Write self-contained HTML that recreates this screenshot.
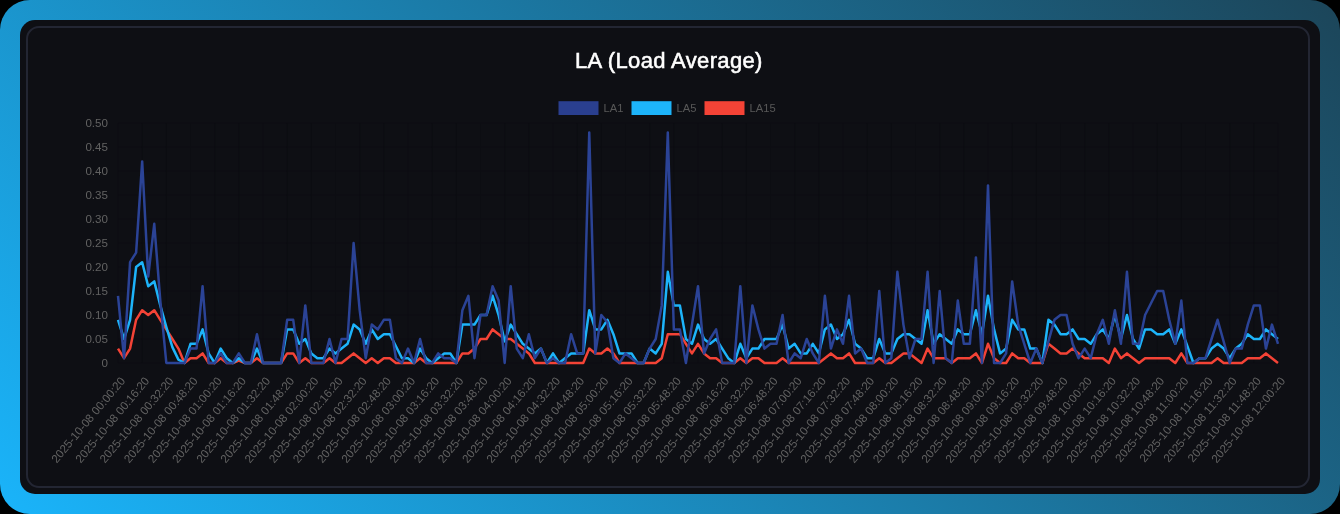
<!DOCTYPE html>
<html><head><meta charset="utf-8"><title>LA (Load Average)</title>
<style>
html,body{margin:0;padding:0;background:#000;width:1340px;height:514px;overflow:hidden}
body{font-family:"Liberation Sans",sans-serif}
.frame{position:absolute;left:0;top:0;width:1340px;height:514px;border-radius:30px;
background:linear-gradient(45deg,#1ab4fa 0%,#1c4559 100%)}
.panel{position:absolute;left:20px;top:20px;width:1300px;height:474px;border-radius:15px;background:#0e0f14}
.inner{position:absolute;left:6px;top:6px;width:1284.4px;height:462px;border-radius:13px;border:2px solid #232633;box-sizing:border-box}
svg{position:absolute;left:0;top:0;filter:blur(0.35px)}
.title{font:22px "Liberation Sans",sans-serif;fill:#fff;stroke:#fff;stroke-width:0.55px;letter-spacing:0.35px}
.leg text{font:11.2px "Liberation Sans",sans-serif;fill:#585858}
.ax text{font:11.6px "Liberation Sans",sans-serif;fill:#626262}
.grid line{stroke:#0c0d12;stroke-width:1}
polyline{fill:none;stroke-width:2.5;stroke-linejoin:round;stroke-linecap:butt}
</style></head><body>
<div class="frame"><div class="panel"><div class="inner"></div></div></div>
<svg width="1340" height="514" viewBox="0 0 1340 514">
<text class="title" x="668.9" y="68.2" text-anchor="middle">LA (Load Average)</text>
<g class="leg">
<rect x="558.5" y="101.2" width="40" height="13.8" fill="#2a3f8f"/><text x="603.5" y="112">LA1</text>
<rect x="631.5" y="101.2" width="40" height="13.8" fill="#1db4fa"/><text x="676.5" y="112">LA5</text>
<rect x="704.5" y="101.2" width="40" height="13.8" fill="#f44336"/><text x="749.5" y="112">LA15</text>
</g>
<g class="grid"><line x1="118" x2="1278" y1="363.0" y2="363.0"/><line x1="118" x2="1278" y1="339.0" y2="339.0"/><line x1="118" x2="1278" y1="315.0" y2="315.0"/><line x1="118" x2="1278" y1="291.0" y2="291.0"/><line x1="118" x2="1278" y1="267.0" y2="267.0"/><line x1="118" x2="1278" y1="243.0" y2="243.0"/><line x1="118" x2="1278" y1="219.0" y2="219.0"/><line x1="118" x2="1278" y1="195.0" y2="195.0"/><line x1="118" x2="1278" y1="171.0" y2="171.0"/><line x1="118" x2="1278" y1="147.0" y2="147.0"/><line x1="118" x2="1278" y1="123.0" y2="123.0"/><line x1="118.00" x2="118.00" y1="123" y2="363"/><line x1="142.17" x2="142.17" y1="123" y2="363"/><line x1="166.33" x2="166.33" y1="123" y2="363"/><line x1="190.50" x2="190.50" y1="123" y2="363"/><line x1="214.67" x2="214.67" y1="123" y2="363"/><line x1="238.83" x2="238.83" y1="123" y2="363"/><line x1="263.00" x2="263.00" y1="123" y2="363"/><line x1="287.17" x2="287.17" y1="123" y2="363"/><line x1="311.33" x2="311.33" y1="123" y2="363"/><line x1="335.50" x2="335.50" y1="123" y2="363"/><line x1="359.67" x2="359.67" y1="123" y2="363"/><line x1="383.83" x2="383.83" y1="123" y2="363"/><line x1="408.00" x2="408.00" y1="123" y2="363"/><line x1="432.17" x2="432.17" y1="123" y2="363"/><line x1="456.33" x2="456.33" y1="123" y2="363"/><line x1="480.50" x2="480.50" y1="123" y2="363"/><line x1="504.67" x2="504.67" y1="123" y2="363"/><line x1="528.83" x2="528.83" y1="123" y2="363"/><line x1="553.00" x2="553.00" y1="123" y2="363"/><line x1="577.17" x2="577.17" y1="123" y2="363"/><line x1="601.33" x2="601.33" y1="123" y2="363"/><line x1="625.50" x2="625.50" y1="123" y2="363"/><line x1="649.67" x2="649.67" y1="123" y2="363"/><line x1="673.83" x2="673.83" y1="123" y2="363"/><line x1="698.00" x2="698.00" y1="123" y2="363"/><line x1="722.17" x2="722.17" y1="123" y2="363"/><line x1="746.33" x2="746.33" y1="123" y2="363"/><line x1="770.50" x2="770.50" y1="123" y2="363"/><line x1="794.67" x2="794.67" y1="123" y2="363"/><line x1="818.83" x2="818.83" y1="123" y2="363"/><line x1="843.00" x2="843.00" y1="123" y2="363"/><line x1="867.17" x2="867.17" y1="123" y2="363"/><line x1="891.33" x2="891.33" y1="123" y2="363"/><line x1="915.50" x2="915.50" y1="123" y2="363"/><line x1="939.67" x2="939.67" y1="123" y2="363"/><line x1="963.83" x2="963.83" y1="123" y2="363"/><line x1="988.00" x2="988.00" y1="123" y2="363"/><line x1="1012.17" x2="1012.17" y1="123" y2="363"/><line x1="1036.33" x2="1036.33" y1="123" y2="363"/><line x1="1060.50" x2="1060.50" y1="123" y2="363"/><line x1="1084.67" x2="1084.67" y1="123" y2="363"/><line x1="1108.83" x2="1108.83" y1="123" y2="363"/><line x1="1133.00" x2="1133.00" y1="123" y2="363"/><line x1="1157.17" x2="1157.17" y1="123" y2="363"/><line x1="1181.33" x2="1181.33" y1="123" y2="363"/><line x1="1205.50" x2="1205.50" y1="123" y2="363"/><line x1="1229.67" x2="1229.67" y1="123" y2="363"/><line x1="1253.83" x2="1253.83" y1="123" y2="363"/><line x1="1278.00" x2="1278.00" y1="123" y2="363"/></g>
<g class="ax"><text x="108" y="366.8" text-anchor="end">0</text><text x="108" y="342.8" text-anchor="end">0.05</text><text x="108" y="318.8" text-anchor="end">0.10</text><text x="108" y="294.8" text-anchor="end">0.15</text><text x="108" y="270.8" text-anchor="end">0.20</text><text x="108" y="246.8" text-anchor="end">0.25</text><text x="108" y="222.8" text-anchor="end">0.30</text><text x="108" y="198.8" text-anchor="end">0.35</text><text x="108" y="174.8" text-anchor="end">0.40</text><text x="108" y="150.8" text-anchor="end">0.45</text><text x="108" y="126.8" text-anchor="end">0.50</text><text transform="translate(123.00,378.8) rotate(-50)" text-anchor="end" dy="0.32em">2025-10-08 00:00:20</text><text transform="translate(147.17,378.8) rotate(-50)" text-anchor="end" dy="0.32em">2025-10-08 00:16:20</text><text transform="translate(171.33,378.8) rotate(-50)" text-anchor="end" dy="0.32em">2025-10-08 00:32:20</text><text transform="translate(195.50,378.8) rotate(-50)" text-anchor="end" dy="0.32em">2025-10-08 00:48:20</text><text transform="translate(219.67,378.8) rotate(-50)" text-anchor="end" dy="0.32em">2025-10-08 01:00:20</text><text transform="translate(243.83,378.8) rotate(-50)" text-anchor="end" dy="0.32em">2025-10-08 01:16:20</text><text transform="translate(268.00,378.8) rotate(-50)" text-anchor="end" dy="0.32em">2025-10-08 01:32:20</text><text transform="translate(292.17,378.8) rotate(-50)" text-anchor="end" dy="0.32em">2025-10-08 01:48:20</text><text transform="translate(316.33,378.8) rotate(-50)" text-anchor="end" dy="0.32em">2025-10-08 02:00:20</text><text transform="translate(340.50,378.8) rotate(-50)" text-anchor="end" dy="0.32em">2025-10-08 02:16:20</text><text transform="translate(364.67,378.8) rotate(-50)" text-anchor="end" dy="0.32em">2025-10-08 02:32:20</text><text transform="translate(388.83,378.8) rotate(-50)" text-anchor="end" dy="0.32em">2025-10-08 02:48:20</text><text transform="translate(413.00,378.8) rotate(-50)" text-anchor="end" dy="0.32em">2025-10-08 03:00:20</text><text transform="translate(437.17,378.8) rotate(-50)" text-anchor="end" dy="0.32em">2025-10-08 03:16:20</text><text transform="translate(461.33,378.8) rotate(-50)" text-anchor="end" dy="0.32em">2025-10-08 03:32:20</text><text transform="translate(485.50,378.8) rotate(-50)" text-anchor="end" dy="0.32em">2025-10-08 03:48:20</text><text transform="translate(509.67,378.8) rotate(-50)" text-anchor="end" dy="0.32em">2025-10-08 04:00:20</text><text transform="translate(533.83,378.8) rotate(-50)" text-anchor="end" dy="0.32em">2025-10-08 04:16:20</text><text transform="translate(558.00,378.8) rotate(-50)" text-anchor="end" dy="0.32em">2025-10-08 04:32:20</text><text transform="translate(582.17,378.8) rotate(-50)" text-anchor="end" dy="0.32em">2025-10-08 04:48:20</text><text transform="translate(606.33,378.8) rotate(-50)" text-anchor="end" dy="0.32em">2025-10-08 05:00:20</text><text transform="translate(630.50,378.8) rotate(-50)" text-anchor="end" dy="0.32em">2025-10-08 05:16:20</text><text transform="translate(654.67,378.8) rotate(-50)" text-anchor="end" dy="0.32em">2025-10-08 05:32:20</text><text transform="translate(678.83,378.8) rotate(-50)" text-anchor="end" dy="0.32em">2025-10-08 05:48:20</text><text transform="translate(703.00,378.8) rotate(-50)" text-anchor="end" dy="0.32em">2025-10-08 06:00:20</text><text transform="translate(727.17,378.8) rotate(-50)" text-anchor="end" dy="0.32em">2025-10-08 06:16:20</text><text transform="translate(751.33,378.8) rotate(-50)" text-anchor="end" dy="0.32em">2025-10-08 06:32:20</text><text transform="translate(775.50,378.8) rotate(-50)" text-anchor="end" dy="0.32em">2025-10-08 06:48:20</text><text transform="translate(799.67,378.8) rotate(-50)" text-anchor="end" dy="0.32em">2025-10-08 07:00:20</text><text transform="translate(823.83,378.8) rotate(-50)" text-anchor="end" dy="0.32em">2025-10-08 07:16:20</text><text transform="translate(848.00,378.8) rotate(-50)" text-anchor="end" dy="0.32em">2025-10-08 07:32:20</text><text transform="translate(872.17,378.8) rotate(-50)" text-anchor="end" dy="0.32em">2025-10-08 07:48:20</text><text transform="translate(896.33,378.8) rotate(-50)" text-anchor="end" dy="0.32em">2025-10-08 08:00:20</text><text transform="translate(920.50,378.8) rotate(-50)" text-anchor="end" dy="0.32em">2025-10-08 08:16:20</text><text transform="translate(944.67,378.8) rotate(-50)" text-anchor="end" dy="0.32em">2025-10-08 08:32:20</text><text transform="translate(968.83,378.8) rotate(-50)" text-anchor="end" dy="0.32em">2025-10-08 08:48:20</text><text transform="translate(993.00,378.8) rotate(-50)" text-anchor="end" dy="0.32em">2025-10-08 09:00:20</text><text transform="translate(1017.17,378.8) rotate(-50)" text-anchor="end" dy="0.32em">2025-10-08 09:16:20</text><text transform="translate(1041.33,378.8) rotate(-50)" text-anchor="end" dy="0.32em">2025-10-08 09:32:20</text><text transform="translate(1065.50,378.8) rotate(-50)" text-anchor="end" dy="0.32em">2025-10-08 09:48:20</text><text transform="translate(1089.67,378.8) rotate(-50)" text-anchor="end" dy="0.32em">2025-10-08 10:00:20</text><text transform="translate(1113.83,378.8) rotate(-50)" text-anchor="end" dy="0.32em">2025-10-08 10:16:20</text><text transform="translate(1138.00,378.8) rotate(-50)" text-anchor="end" dy="0.32em">2025-10-08 10:32:20</text><text transform="translate(1162.17,378.8) rotate(-50)" text-anchor="end" dy="0.32em">2025-10-08 10:48:20</text><text transform="translate(1186.33,378.8) rotate(-50)" text-anchor="end" dy="0.32em">2025-10-08 11:00:20</text><text transform="translate(1210.50,378.8) rotate(-50)" text-anchor="end" dy="0.32em">2025-10-08 11:16:20</text><text transform="translate(1234.67,378.8) rotate(-50)" text-anchor="end" dy="0.32em">2025-10-08 11:32:20</text><text transform="translate(1258.83,378.8) rotate(-50)" text-anchor="end" dy="0.32em">2025-10-08 11:48:20</text><text transform="translate(1283.00,378.8) rotate(-50)" text-anchor="end" dy="0.32em">2025-10-08 12:00:20</text></g>
<polyline stroke="#f44336" points="118.00,348.60 124.04,358.20 130.08,348.60 136.12,319.80 142.17,310.20 148.21,315.00 154.25,310.20 160.29,319.80 166.33,329.40 172.38,339.00 178.42,348.60 184.46,363.00 190.50,358.20 196.54,358.20 202.58,353.40 208.62,363.00 214.67,363.00 220.71,358.20 226.75,363.00 232.79,363.00 238.83,360.60 244.88,363.00 250.92,363.00 256.96,358.20 263.00,363.00 269.04,363.00 275.08,363.00 281.12,363.00 287.17,353.40 293.21,353.40 299.25,363.00 305.29,358.20 311.33,363.00 317.38,363.00 323.42,363.00 329.46,358.20 335.50,363.00 341.54,363.00 347.58,358.20 353.62,353.40 359.67,358.20 365.71,363.00 371.75,358.20 377.79,363.00 383.83,358.20 389.88,358.20 395.92,363.00 401.96,363.00 408.00,363.00 414.04,363.00 420.08,358.20 426.12,363.00 432.17,363.00 438.21,363.00 444.25,363.00 450.29,363.00 456.33,363.00 462.38,353.40 468.42,353.40 474.46,348.60 480.50,339.00 486.54,339.00 492.58,329.40 498.62,334.20 504.67,339.00 510.71,339.00 516.75,343.80 522.79,348.60 528.83,353.40 534.88,363.00 540.92,363.00 546.96,363.00 553.00,363.00 559.04,363.00 565.08,363.00 571.12,363.00 577.17,363.00 583.21,363.00 589.25,348.60 595.29,353.40 601.33,353.40 607.38,348.60 613.42,353.40 619.46,363.00 625.50,363.00 631.54,363.00 637.58,363.00 643.62,363.00 649.67,363.00 655.71,363.00 661.75,358.20 667.79,334.20 673.83,334.20 679.88,334.20 685.92,343.80 691.96,353.40 698.00,343.80 704.04,353.40 710.08,358.20 716.12,358.20 722.17,363.00 728.21,363.00 734.25,363.00 740.29,358.20 746.33,363.00 752.38,358.20 758.42,358.20 764.46,363.00 770.50,363.00 776.54,363.00 782.58,358.20 788.62,363.00 794.67,363.00 800.71,363.00 806.75,363.00 812.79,363.00 818.83,363.00 824.88,358.20 830.92,353.40 836.96,358.20 843.00,358.20 849.04,353.40 855.08,363.00 861.12,363.00 867.17,363.00 873.21,363.00 879.25,358.20 885.29,363.00 891.33,363.00 897.38,358.20 903.42,353.40 909.46,353.40 915.50,358.20 921.54,363.00 927.58,348.60 933.62,358.20 939.67,358.20 945.71,358.20 951.75,363.00 957.79,358.20 963.83,358.20 969.88,358.20 975.92,353.40 981.96,363.00 988.00,343.80 994.04,358.20 1000.08,363.00 1006.12,363.00 1012.17,353.40 1018.21,358.20 1024.25,358.20 1030.29,363.00 1036.33,363.00 1042.38,363.00 1048.42,343.80 1054.46,348.60 1060.50,353.40 1066.54,353.40 1072.58,348.60 1078.62,353.40 1084.67,358.20 1090.71,358.20 1096.75,358.20 1102.79,358.20 1108.83,363.00 1114.88,348.60 1120.92,358.20 1126.96,353.40 1133.00,358.20 1139.04,363.00 1145.08,358.20 1151.12,358.20 1157.17,358.20 1163.21,358.20 1169.25,358.20 1175.29,363.00 1181.33,353.40 1187.38,363.00 1193.42,363.00 1199.46,363.00 1205.50,363.00 1211.54,363.00 1217.58,358.20 1223.62,363.00 1229.67,363.00 1235.71,363.00 1241.75,363.00 1247.79,358.20 1253.83,358.20 1259.88,358.20 1265.92,353.40 1271.96,358.20 1278.00,363.00"/>
<polyline stroke="#1db4fa" points="118.00,319.80 124.04,339.00 130.08,319.80 136.12,267.00 142.17,262.20 148.21,286.20 154.25,281.40 160.29,305.40 166.33,327.00 172.38,347.16 178.42,359.64 184.46,363.00 190.50,343.80 196.54,343.80 202.58,329.40 208.62,353.40 214.67,363.00 220.71,348.60 226.75,358.20 232.79,363.00 238.83,358.20 244.88,363.00 250.92,363.00 256.96,348.60 263.00,363.00 269.04,363.00 275.08,363.00 281.12,363.00 287.17,329.40 293.21,329.40 299.25,343.80 305.29,339.00 311.33,353.40 317.38,358.20 323.42,358.20 329.46,348.60 335.50,353.40 341.54,348.60 347.58,343.80 353.62,324.60 359.67,329.40 365.71,343.80 371.75,329.40 377.79,339.00 383.83,334.20 389.88,334.20 395.92,346.20 401.96,358.20 408.00,358.20 414.04,363.00 420.08,348.60 426.12,358.20 432.17,363.00 438.21,358.20 444.25,353.40 450.29,353.40 456.33,363.00 462.38,324.60 468.42,324.60 474.46,324.60 480.50,315.00 486.54,315.00 492.58,295.80 498.62,315.00 504.67,341.40 510.71,324.60 516.75,334.20 522.79,343.80 528.83,348.60 534.88,353.40 540.92,348.60 546.96,363.00 553.00,353.40 559.04,363.00 565.08,358.20 571.12,353.40 577.17,353.40 583.21,353.40 589.25,310.20 595.29,329.40 601.33,329.40 607.38,319.80 613.42,334.20 619.46,353.40 625.50,353.40 631.54,353.40 637.58,363.00 643.62,363.00 649.67,348.60 655.71,353.40 661.75,343.80 667.79,271.80 673.83,305.40 679.88,305.40 685.92,339.00 691.96,343.80 698.00,324.60 704.04,339.00 710.08,343.80 716.12,339.00 722.17,348.60 728.21,358.20 734.25,363.00 740.29,343.80 746.33,358.20 752.38,348.60 758.42,348.60 764.46,339.00 770.50,339.00 776.54,339.00 782.58,324.60 788.62,348.60 794.67,343.80 800.71,353.40 806.75,353.40 812.79,343.80 818.83,353.40 824.88,329.40 830.92,324.60 836.96,339.00 843.00,334.20 849.04,319.80 855.08,343.80 861.12,348.60 867.17,358.20 873.21,358.20 879.25,339.00 885.29,353.40 891.33,353.40 897.38,339.00 903.42,334.20 909.46,334.20 915.50,339.00 921.54,343.80 927.58,310.20 933.62,343.80 939.67,334.20 945.71,339.00 951.75,343.80 957.79,329.40 963.83,334.20 969.88,334.20 975.92,310.20 981.96,334.20 988.00,295.80 994.04,329.40 1000.08,353.40 1006.12,348.60 1012.17,319.80 1018.21,329.40 1024.25,329.40 1030.29,348.60 1036.33,348.60 1042.38,363.00 1048.42,319.80 1054.46,324.60 1060.50,334.20 1066.54,334.20 1072.58,329.40 1078.62,339.00 1084.67,339.00 1090.71,343.80 1096.75,334.20 1102.79,329.40 1108.83,339.00 1114.88,315.00 1120.92,339.00 1126.96,315.00 1133.00,339.00 1139.04,348.60 1145.08,329.40 1151.12,329.40 1157.17,334.20 1163.21,334.20 1169.25,329.40 1175.29,343.80 1181.33,329.40 1187.38,346.20 1193.42,363.00 1199.46,358.20 1205.50,358.20 1211.54,348.60 1217.58,343.80 1223.62,348.60 1229.67,358.20 1235.71,348.60 1241.75,343.80 1247.79,334.20 1253.83,339.00 1259.88,339.00 1265.92,329.40 1271.96,334.20 1278.00,339.00"/>
<polyline stroke="#2b4396" points="118.00,295.80 124.04,358.20 130.08,262.20 136.12,252.60 142.17,161.40 148.21,276.60 154.25,223.80 160.29,300.60 166.33,363.00 172.38,363.00 178.42,363.00 184.46,363.00 190.50,348.60 196.54,348.60 202.58,286.20 208.62,363.00 214.67,363.00 220.71,353.40 226.75,363.00 232.79,363.00 238.83,353.40 244.88,363.00 250.92,363.00 256.96,334.20 263.00,363.00 269.04,363.00 275.08,363.00 281.12,363.00 287.17,319.80 293.21,319.80 299.25,363.00 305.29,305.40 311.33,363.00 317.38,363.00 323.42,363.00 329.46,339.00 335.50,363.00 341.54,339.00 347.58,339.00 353.62,243.00 359.67,310.20 365.71,358.20 371.75,324.60 377.79,329.40 383.83,319.80 389.88,319.80 395.92,358.20 401.96,363.00 408.00,348.60 414.04,363.00 420.08,339.00 426.12,363.00 432.17,363.00 438.21,353.40 444.25,358.20 450.29,358.20 456.33,363.00 462.38,310.20 468.42,295.80 474.46,358.20 480.50,315.00 486.54,315.00 492.58,286.20 498.62,300.60 504.67,363.00 510.71,286.20 516.75,348.60 522.79,358.20 528.83,334.20 534.88,358.20 540.92,348.60 546.96,363.00 553.00,358.20 559.04,363.00 565.08,363.00 571.12,334.20 577.17,353.40 583.21,353.40 589.25,132.60 595.29,353.40 601.33,315.00 607.38,322.20 613.42,358.20 619.46,363.00 625.50,353.40 631.54,358.20 637.58,363.00 643.62,363.00 649.67,348.60 655.71,339.00 661.75,305.40 667.79,132.60 673.83,329.40 679.88,329.40 685.92,363.00 691.96,324.60 698.00,286.20 704.04,353.40 710.08,339.00 716.12,329.40 722.17,363.00 728.21,363.00 734.25,363.00 740.29,286.20 746.33,363.00 752.38,305.40 758.42,329.40 764.46,348.60 770.50,343.80 776.54,343.80 782.58,315.00 788.62,363.00 794.67,353.40 800.71,358.20 806.75,339.00 812.79,353.40 818.83,363.00 824.88,295.80 830.92,348.60 836.96,329.40 843.00,343.80 849.04,295.80 855.08,353.40 861.12,348.60 867.17,363.00 873.21,363.00 879.25,291.00 885.29,363.00 891.33,358.20 897.38,271.80 903.42,324.60 909.46,358.20 915.50,339.00 921.54,339.00 927.58,271.80 933.62,363.00 939.67,291.00 945.71,358.20 951.75,363.00 957.79,300.60 963.83,343.80 969.88,343.80 975.92,257.40 981.96,363.00 988.00,185.40 994.04,363.00 1000.08,363.00 1006.12,353.40 1012.17,281.40 1018.21,324.60 1024.25,343.80 1030.29,363.00 1036.33,348.60 1042.38,363.00 1048.42,341.40 1054.46,319.80 1060.50,315.00 1066.54,315.00 1072.58,343.80 1078.62,358.20 1084.67,348.60 1090.71,358.20 1096.75,334.20 1102.79,319.80 1108.83,343.80 1114.88,310.20 1120.92,343.80 1126.96,271.80 1133.00,343.80 1139.04,343.80 1145.08,315.00 1151.12,303.00 1157.17,291.00 1163.21,291.00 1169.25,319.80 1175.29,343.80 1181.33,300.60 1187.38,363.00 1193.42,363.00 1199.46,358.20 1205.50,358.20 1211.54,339.00 1217.58,319.80 1223.62,341.40 1229.67,363.00 1235.71,348.60 1241.75,348.60 1247.79,324.60 1253.83,305.40 1259.88,305.40 1265.92,348.60 1271.96,324.60 1278.00,343.80"/>
</svg>
</body></html>
